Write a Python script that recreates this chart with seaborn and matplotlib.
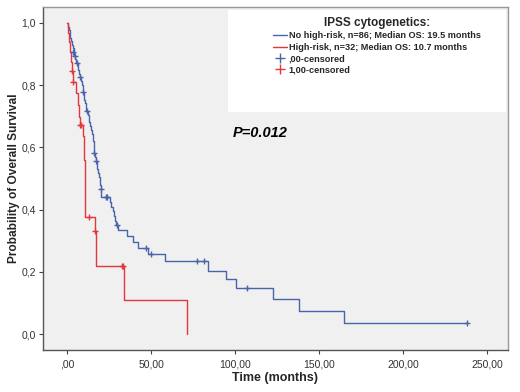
import matplotlib
matplotlib.use("Agg")
import matplotlib.pyplot as plt
from matplotlib.lines import Line2D
from matplotlib.patches import Rectangle
import seaborn as sns
import pandas as pd

# ---- data ----
blue_t = [0, 0.5, 1.0, 1.5, 2.0, 2.5, 3.0, 3.5, 4.0, 4.3, 5.0, 5.6, 6.3, 6.8, 7.3, 7.9,
          8.4, 8.8, 9.3, 9.6, 10.0, 10.4, 10.8, 11.1, 11.4, 12.2, 12.8, 13.3, 13.8, 14.3,
          14.8, 15.2, 15.5, 15.8, 16.0, 16.3, 16.8, 17.3, 17.6, 18.0, 18.4, 18.8, 19.5,
          19.8, 20.1, 20.4, 25.6, 26.3, 27.2, 28.0, 28.8, 29.3, 30.4, 35.5, 39.5, 42.5,
          48.5, 58.5, 84.1, 94.6, 100.6, 122.4, 138.1, 165.0, 238.0]
blue_s = [1.0, 0.988, 0.977, 0.965, 0.953, 0.942, 0.930, 0.919, 0.907, 0.895, 0.884, 0.872,
          0.860, 0.848, 0.837, 0.825, 0.813, 0.801, 0.789, 0.777, 0.765, 0.753, 0.741,
          0.729, 0.717, 0.705, 0.692, 0.680, 0.668, 0.656, 0.643, 0.631, 0.619, 0.606,
          0.594, 0.581, 0.569, 0.556, 0.543, 0.530, 0.517, 0.504, 0.491, 0.478, 0.465,
          0.440, 0.425, 0.410, 0.395, 0.380, 0.365, 0.350, 0.333, 0.314, 0.296, 0.278,
          0.259, 0.235, 0.204, 0.176, 0.147, 0.112, 0.074, 0.036, 0.036]
blue_cens_t = [3.8, 4.5, 6.1, 7.7, 9.7, 11.7, 16.1, 17.1, 20.0, 23.2, 24.0, 29.6, 46.8,
               49.8, 77.2, 81.5, 107.3, 238.0]
blue_cens_s = [0.907, 0.895, 0.872, 0.825, 0.777, 0.717, 0.581, 0.556, 0.465, 0.440,
               0.440, 0.350, 0.278, 0.259, 0.235, 0.235, 0.147, 0.036]

red_t = [0, 0.7, 1.2, 1.8, 2.3, 2.8, 3.5, 5.4, 6.4, 7.0, 7.5, 9.8, 10.2, 10.7, 16.5, 17.0,
         34.1, 71.2]
red_s = [1.0, 0.969, 0.938, 0.906, 0.875, 0.844, 0.811, 0.774, 0.736, 0.698, 0.672, 0.636,
         0.560, 0.375, 0.330, 0.219, 0.110, 0.0]
red_cens_t = [3.2, 3.75, 7.7, 8.2, 13.0, 16.7, 32.8, 33.6]
red_cens_s = [0.844, 0.811, 0.672, 0.672, 0.375, 0.330, 0.219, 0.219]

x_ticks = [0, 50, 100, 150, 200, 250]
x_labels = [",00", "50,00", "100,00", "150,00", "200,00", "250,00"]
y_ticks = [0.0, 0.2, 0.4, 0.6, 0.8, 1.0]
y_labels = ["0,0", "0,2", "0,4", "0,6", "0,8", "1,0"]

legend_title = "IPSS cytogenetics:"
legend_labels = ["No high-risk, n=86; Median OS: 19.5 months",
                 "High-risk, n=32; Median OS: 10.7 months",
                 ",00-censored", "1,00-censored"]

BLUE = "#4a64aa"
RED = "#e2373d"

sns.set_theme(style="white")
plt.rcParams["font.family"] = ["Liberation Sans", "DejaVu Sans"]

fig = plt.figure(figsize=(5.2, 3.92), dpi=100)
ax = fig.add_axes([43 / 520, 42 / 392, 465 / 520, 343 / 392])
ax.set_facecolor("#f0f0f0")

blue_df = pd.DataFrame({"t": blue_t, "s": blue_s})
red_df = pd.DataFrame({"t": red_t, "s": red_s})
sns.lineplot(data=blue_df, x="t", y="s", drawstyle="steps-post", estimator=None,
             sort=False, color=BLUE, lw=1.0, ax=ax)
sns.lineplot(data=red_df, x="t", y="s", drawstyle="steps-post", estimator=None,
             sort=False, color=RED, lw=1.0, ax=ax)
sns.scatterplot(x=blue_cens_t, y=blue_cens_s, marker="+", s=22, color=BLUE,
                linewidth=1.0, ax=ax, zorder=3)
sns.scatterplot(x=red_cens_t, y=red_cens_s, marker="+", s=22, color=RED,
                linewidth=1.0, ax=ax, zorder=3)

ax.set_xlim(-14.3, 262.5)
ax.set_ylim(-0.051, 1.051)
ax.set_xticks(x_ticks)
ax.set_xticklabels(x_labels)
ax.set_yticks(y_ticks)
ax.set_yticklabels(y_labels)
ax.tick_params(axis="both", direction="out", length=3, width=0.8, color="#444444",
               labelsize=7.5, labelcolor="#333333", pad=2, left=True, bottom=True)
ax.tick_params(axis="x", pad=3.5)

for side in ["left", "bottom"]:
    ax.spines[side].set_color("#555555")
    ax.spines[side].set_linewidth(1.0)
for side in ["top", "right"]:
    ax.spines[side].set_color("#999999")
    ax.spines[side].set_linewidth(1.0)

ax.set_xlabel("Time (months)", fontsize=9, fontweight="bold")
ax.set_ylabel("Probability of Overall Survival", fontsize=8.6, fontweight="bold")
ax.xaxis.set_label_coords(0.5, -0.064)
ax.yaxis.set_label_coords(-0.05, 0.5)

ax.text(0.409, 0.633, "P=0.012", transform=ax.transAxes, fontsize=10.5,
        fontweight="bold", fontstyle="italic", va="center", ha="left", color="black")

# legend box
ax.add_patch(Rectangle((0.398, 0.694), 0.598, 0.296, transform=ax.transAxes,
                       facecolor="white", edgecolor="none", zorder=4))
handles = [Line2D([], [], color=BLUE, lw=1.0),
           Line2D([], [], color=RED, lw=1.0),
           Line2D([], [], color=BLUE, lw=0, marker="+", markersize=7, mew=1.0),
           Line2D([], [], color=RED, lw=0, marker="+", markersize=7, mew=1.0)]
leg = ax.legend(handles, legend_labels, title=legend_title, loc="upper center",
                bbox_to_anchor=(0.718, 0.981), frameon=False, fontsize=6.6,
                handlelength=1.5, handletextpad=0.2, labelspacing=0.25,
                borderaxespad=0)
for t in leg.get_texts():
    t.set_fontweight("bold")
leg.get_title().set_fontweight("bold")
leg.get_title().set_fontsize(8.5)
leg.set_zorder(5)

fig.savefig("out.png", dpi=100, facecolor="white")
